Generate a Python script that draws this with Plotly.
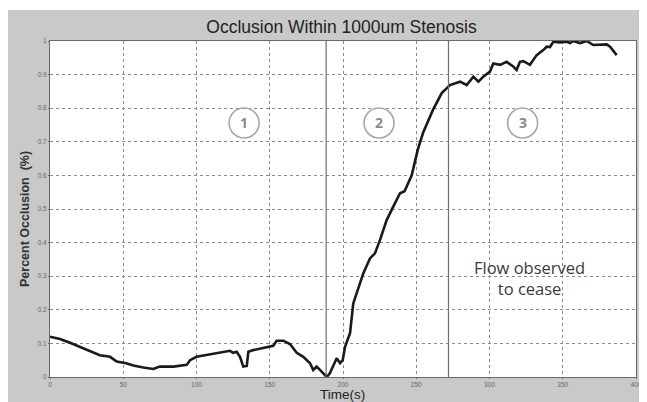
import plotly.graph_objects as go

time_s = [0, 6.8, 13.7, 22.8, 34, 41, 45.5, 52, 56.9, 63.7, 70.5, 75, 84.2, 93.3, 95.6, 100,
          107, 116, 122.9, 125, 127.4, 129.7, 131.9, 134.3, 135.4, 138.8, 145.6, 150.2, 152.4,
          154.7, 159.2, 163.8, 168.4, 172.9, 177.5, 179.7, 182, 184.3, 187.7, 188.9, 191, 195.7,
          198, 199.8, 201.4, 204.8, 207, 209.4, 213.9, 218.4, 221.8, 225.3, 229.8, 234.3, 238.9,
          242, 244.5, 246.9, 251, 254.6, 261.4, 267.4, 273, 279.9, 284.4, 289, 292.4, 295.8,
          300.3, 302.6, 307.2, 311.7, 316.2, 318.5, 320.8, 323.1, 327.6, 332.2, 336.7, 339,
          341.3, 343.6, 348, 352.7, 355, 357.2, 361.8, 366.3, 370.9, 375.4, 380, 382.3, 386.8]
occlusion = [0.12, 0.113, 0.102, 0.085, 0.065, 0.06, 0.046, 0.041, 0.034, 0.028, 0.024, 0.031,
             0.031, 0.036, 0.05, 0.06, 0.065, 0.072, 0.078, 0.072, 0.075, 0.06, 0.031, 0.033,
             0.075, 0.08, 0.087, 0.09, 0.093, 0.108, 0.108, 0.098, 0.072, 0.06, 0.041, 0.021,
             0.031, 0.021, 0.006, 0.0, 0.011, 0.056, 0.041, 0.05, 0.09, 0.13, 0.219, 0.249,
             0.309, 0.353, 0.368, 0.408, 0.467, 0.507, 0.547, 0.553, 0.575, 0.6, 0.676, 0.726,
             0.795, 0.845, 0.869, 0.879, 0.869, 0.894, 0.879, 0.894, 0.909, 0.933, 0.929, 0.938,
             0.924, 0.914, 0.938, 0.94, 0.929, 0.958, 0.973, 0.983, 0.982, 0.998, 0.996, 0.998,
             0.994, 1.0, 0.994, 1.0, 0.988, 0.988, 0.99, 0.983, 0.958]

phase_lines = [188.5, 272]
phase_labels = ["1", "2", "3"]
phase_x = [132.5, 224.6, 322.6]
phase_y = 0.756

title = "Occlusion Within 1000um Stenosis"
x_title = "Time(s)"
y_title = "Percent Occlusion  (%)"
note = "Flow observed<br>to cease"
note_x, note_y = 327.6, 0.295

x_ticks = [0, 50, 100, 150, 200, 250, 300, 350, 400]
y_ticks = [0, 0.1, 0.2, 0.3, 0.4, 0.5, 0.6, 0.7, 0.8, 0.9, 1]
y_tick_text = ["0", "0.1", "0.2", "0.3", "0.4", "0.5", "0.6", "0.7", "0.8", "0.9", "1"]

W, H = 639, 394  # page has an 8px body margin
L, T, R, B = 42, 33, 11, 25
PW, PH = W - L - R, H - T - B

fig = go.Figure()
fig.add_trace(go.Scatter(x=time_s, y=occlusion, mode="lines",
                         line=dict(color="#1a1a1a", width=2.6), showlegend=False,
                         cliponaxis=True))

shapes = []
# thin white strip above the gray figure area
shapes.append(dict(type="rect", xref="paper", yref="paper", x0=-0.1, x1=1.05,
                   y0=(PH + 31) / PH, y1=1.2, fillcolor="white",
                   line=dict(width=0), layer="below"))
for xv in phase_lines:
    shapes.append(dict(type="line", xref="x", yref="y", x0=xv, x1=xv, y0=0, y1=1,
                       line=dict(color="#6e6e6e", width=1.2)))
for xv in phase_x:
    shapes.append(dict(type="circle", xref="x", yref="y", xsizemode="pixel", ysizemode="pixel",
                       xanchor=xv, yanchor=phase_y, x0=-15, x1=15, y0=-15, y1=15,
                       line=dict(color="#a8a8a8", width=1.6), fillcolor="rgba(0,0,0,0)"))

annotations = []
for lab, xv in zip(phase_labels, phase_x):
    annotations.append(dict(x=xv, y=phase_y, xref="x", yref="y", text="<b>" + lab + "</b>",
                            showarrow=False, font=dict(family="Open Sans", size=14, color="#8a8a8a")))
annotations.append(dict(x=note_x, y=note_y, xref="x", yref="y", text=note, showarrow=False,
                        align="center", font=dict(family="Open Sans", size=16.5, color="#3a3a3a")))
# axis titles placed as annotations
annotations.append(dict(x=-25 / PW, y=(369 - 211) / PH, xref="paper", yref="paper",
                        xanchor="center", yanchor="middle",
                        text="<b>" + y_title + "</b>", textangle=-90, showarrow=False,
                        font=dict(family="Liberation Sans", size=12.5, color="#333333")))
annotations.append(dict(x=(334 - L) / PW, y=-B / PH, xref="paper", yref="paper",
                        xanchor="center", yanchor="bottom", borderpad=0, yshift=-1,
                        text=x_title, showarrow=False,
                        font=dict(family="Liberation Sans", size=13.5, color="#222222")))

fig.update_layout(
    width=W, height=H,
    margin=dict(l=L, r=R, t=T, b=B),
    paper_bgcolor="#c9c9c9", plot_bgcolor="white",
    title=dict(text=title, x=333.5 / W, xanchor="center", y=1 - 19 / H, yanchor="middle",
               font=dict(family="Liberation Sans", size=17.5, color="#222222")),
    shapes=shapes, annotations=annotations,
    font=dict(family="Liberation Sans"),
)
grid = dict(showgrid=True, gridcolor="#8c8c8c", griddash="dot", gridwidth=1,
            showline=True, linecolor="#6a6a6a", linewidth=1, mirror=True,
            ticks="outside", ticklen=1, tickcolor="#6a6a6a", zeroline=False, automargin=False,
            tickfont=dict(family="Liberation Sans", size=6.5, color="#666666"))
fig.update_xaxes(range=[0, 400], tickvals=x_ticks, **grid)
fig.update_yaxes(range=[0, 1], tickvals=y_ticks, ticktext=y_tick_text, **grid)

fig.write_html("out.html")
